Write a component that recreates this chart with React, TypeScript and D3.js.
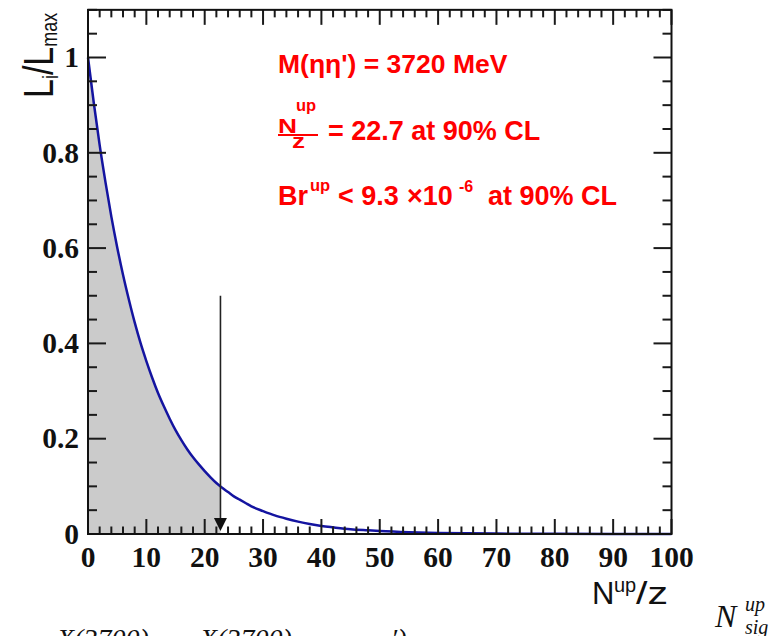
import React from "react";
import * as d3 from "d3";

// Normalised likelihood L_i/L_max versus N^up/z
const nUp = [0, 1, 2, 3, 4, 5, 6, 7, 8, 9, 10, 11, 12, 13, 14, 15, 16, 17, 18, 19, 20, 21, 22, 22.7, 23, 24, 25, 26, 27, 28, 30, 32, 34, 36, 38, 40, 42, 45, 48, 50, 55, 60, 65, 70, 80, 90, 100];
const likelihood = [1.0, 0.904, 0.816, 0.738, 0.666, 0.602, 0.544, 0.492, 0.444, 0.401, 0.363, 0.328, 0.296, 0.268, 0.242, 0.218, 0.197, 0.178, 0.161, 0.146, 0.132, 0.119, 0.107, 0.1, 0.097, 0.088, 0.079, 0.072, 0.065, 0.058, 0.048, 0.039, 0.032, 0.026, 0.021, 0.017, 0.014, 0.01, 0.0077, 0.0063, 0.0038, 0.0023, 0.0014, 0.0008, 0.0003, 0.0001, 0.00004];

const upperLimit = 22.7;
const arrowTop = 0.5;

const xMajorTicks = [0, 10, 20, 30, 40, 50, 60, 70, 80, 90, 100];
const xTickLabels = ["0", "10", "20", "30", "40", "50", "60", "70", "80", "90", "100"];
const yMajorTicks = [0, 0.2, 0.4, 0.6, 0.8, 1];
const yTickLabels = ["0", "0.2", "0.4", "0.6", "0.8", "1"];

const W = 776;
const H = 636;
const left = 88;
const right = 671.5;
const bottom = 534;
const top = 9.85;

export default function App() {
  const x = d3.scaleLinear().domain([0, 100]).range([left, right]);
  const y = d3.scaleLinear().domain([0, 1.1]).range([bottom, top]);

  const pts = nUp.map((n, i) => ({ n, v: likelihood[i] }));
  const line = d3
    .line<{ n: number; v: number }>()
    .x((d) => x(d.n))
    .y((d) => y(d.v))
    .curve(d3.curveMonotoneX);
  const area = d3
    .area<{ n: number; v: number }>()
    .x((d) => x(d.n))
    .y0(y(0))
    .y1((d) => y(d.v))
    .curve(d3.curveMonotoneX);
  const shaded = pts.filter((d) => d.n <= upperLimit);

  const xMinor = d3.range(0, 100.001, 2).filter((v) => v % 10 !== 0);
  const yMinor = d3.range(0, 1.1001, 0.05).filter((v) => Math.abs(v * 5 - Math.round(v * 5)) > 1e-6);

  const tickColor = "#1a1a1a";
  const ax = x(upperLimit);

  const serif = "'Liberation Serif', 'DejaVu Serif', serif";
  const sans = "'Liberation Sans', Arial, sans-serif";

  return (
    <svg
      width={W}
      height={H}
      style={{ position: "absolute", left: 0, top: 0, background: "#fff" }}
    >
      <rect x={0} y={0} width={W} height={H} fill="#fff" />

      {/* shaded 90% region */}
      <path d={area(shaded) || ""} fill="#cbcbcb" />

      {/* likelihood curve */}
      <path d={line(pts) || ""} fill="none" stroke="#1414a0" strokeWidth={2.5} />

      {/* upper-limit arrow */}
      <line x1={ax} x2={ax} y1={y(arrowTop)} y2={bottom - 14} stroke="#222" strokeWidth={1.6} />
      <path d={`M${ax - 6.5},${bottom - 16} L${ax + 6.5},${bottom - 16} L${ax},${bottom - 3} Z`} fill="#111" />

      {/* ticks */}
      <g stroke={tickColor} strokeWidth={2}>
        {xMajorTicks.map((t) => (
          <g key={"xm" + t}>
            <line x1={x(t)} x2={x(t)} y1={bottom} y2={bottom - 15} />
            <line x1={x(t)} x2={x(t)} y1={top} y2={top + 15} />
          </g>
        ))}
        {xMinor.map((t) => (
          <g key={"xn" + t}>
            <line x1={x(t)} x2={x(t)} y1={bottom} y2={bottom - 7.5} />
            <line x1={x(t)} x2={x(t)} y1={top} y2={top + 7.5} />
          </g>
        ))}
        {yMajorTicks.map((t) => (
          <g key={"ym" + t}>
            <line x1={left} x2={left + 18} y1={y(t)} y2={y(t)} />
            <line x1={right} x2={right - 18} y1={y(t)} y2={y(t)} />
          </g>
        ))}
        {yMinor.map((t) => (
          <g key={"yn" + t}>
            <line x1={left} x2={left + 9} y1={y(t)} y2={y(t)} />
            <line x1={right} x2={right - 9} y1={y(t)} y2={y(t)} />
          </g>
        ))}
      </g>

      {/* frame */}
      <rect x={left} y={top} width={right - left} height={bottom - top} fill="none" stroke="#111" strokeWidth={2} />

      {/* tick labels */}
      <g fontFamily={serif} fontWeight="bold" fontSize={29.5} fill="#111">
        {xMajorTicks.map((t, i) => (
          <text key={"xl" + t} x={x(t)} y={566.5} textAnchor="middle">
            {xTickLabels[i]}
          </text>
        ))}
        {yMajorTicks.map((t, i) => (
          <text key={"yl" + t} x={79} y={y(t)} dy="0.33em" textAnchor="end">
            {yTickLabels[i]}
          </text>
        ))}
      </g>

      {/* axis titles */}
      <text fontFamily={sans} fontSize={31} fill="#111" x={592} y={604}>
        N
      </text>
      <text fontFamily={sans} fontSize={20} fill="#111" x={614} y={592}>
        up
      </text>
      <text fontFamily={sans} fontSize={31} fill="#111" x={636} y={604} textLength={32} lengthAdjust="spacingAndGlyphs">
        /z
      </text>
      <g transform="translate(53,98) scale(1.23,1) rotate(-90)">
        <text fontFamily={sans} fontSize={34} fill="#111" x={0} y={0}>
          L<tspan fontSize={18} dy={4}>i</tspan>
          <tspan fontSize={34} dy={-4}>/L</tspan>
          <tspan fontSize={18} dy={3}>max</tspan>
        </text>
      </g>

      {/* result annotation */}
      <g fontFamily={sans} fontWeight="bold" fill="#ff0000">
        <text x={278} y={73} fontSize={26.5}>M(ηη') = 3720 MeV</text>
        <text x={278} y={133} fontSize={21} textLength={19} lengthAdjust="spacingAndGlyphs">N</text>
        <text x={296} y={111} fontSize={16.5}>up</text>
        <line x1={278} x2={318} y1={135} y2={135} stroke="#ff0000" strokeWidth={2} />
        <text x={292} y={148} fontSize={21} textLength={13} lengthAdjust="spacingAndGlyphs">z</text>
        <text x={328} y={140} fontSize={27}>= 22.7 at 90% CL</text>
        <text x={278} y={205} fontSize={27}>Br</text>
        <text x={310} y={191} fontSize={16.5}>up</text>
        <text x={338} y={205} fontSize={27}>&lt; 9.3</text>
        <text x={407} y={205} fontSize={27}>×10</text>
        <text x={459} y={192} fontSize={16}>-6</text>
        <text x={488} y={205} fontSize={27}>at 90% CL</text>
      </g>

      {/* surrounding page text */}
      <g fontFamily={serif} fontStyle="italic" fill="#111">
        <text x={715} y={627} fontSize={32}>N</text>
        <text x={745} y={611} fontSize={20}>up</text>
        <text x={745} y={634} fontSize={20}>sig</text>
        <text x={57} y={648} fontSize={28}>X(3700)</text>
        <text x={200} y={648} fontSize={28}>X(3700)</text>
        <text x={391} y={648} fontSize={28}>′)</text>
      </g>
    </svg>
  );
}
